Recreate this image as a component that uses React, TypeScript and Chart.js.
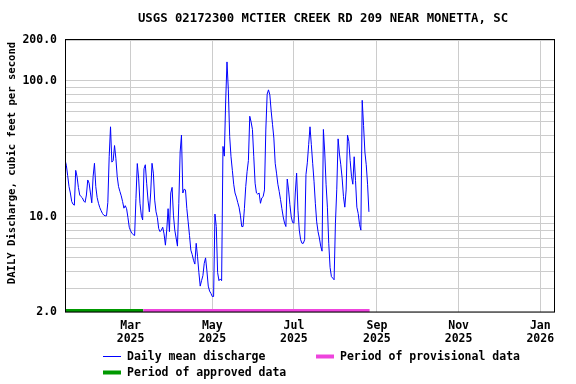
import React, { useEffect, useRef } from "react";
import { Chart, registerables } from "chart.js";

Chart.register(...registerables);

// ---- Data ----
const TITLE = "USGS 02172300 MCTIER CREEK RD 209 NEAR MONETTA, SC";
const Y_TITLE = "DAILY Discharge, cubic feet per second";
const START_DATE = "2025-01-11"; // first daily value
const END_DATE = "2026-01-12"; // right edge of the axis
const APPROVED_END = "2025-03-10"; // last approved day
const tickDates = ["2025-03-01", "2025-05-01", "2025-07-01", "2025-09-01", "2025-11-01", "2026-01-01"];
const tickMonths = ["Mar", "May", "Jul", "Sep", "Nov", "Jan"];
const tickYears = ["2025", "2025", "2025", "2025", "2025", "2026"];
const yGridValues = [2, 3, 4, 5, 6, 7, 8, 9, 10, 20, 30, 40, 50, 60, 70, 80, 90, 100, 200];
const yLabelValues = [2, 10, 100, 200];

// daily mean discharge, cfs, starting at START_DATE
const discharge = [
  26.3, 24, 20.1, 16.7, 15, 13, 12.4, 12.2, 22, 19.8,
  16.5, 14.5, 14.1, 13.8, 13.1, 12.8, 14.5, 18.7, 17.7, 15,
  12.7, 19.8, 24.8, 16.7, 13.9, 12.6, 11.7, 11.1, 10.6, 10.3,
  10.2, 10.2, 12.8, 27.7, 46, 25.3, 26, 33.5, 27, 19.8,
  16.7, 15.4, 14.3, 13, 11.6, 12.1, 11.5, 9.9, 8.4, 7.9,
  7.6, 7.4, 7.3, 13.7, 24.7, 19.3, 12.6, 10.3, 9.5, 22.6,
  24.2, 17.7, 13.3, 10.9, 15, 24.8, 21, 13.3, 10.9, 9.9,
  8.2, 7.8, 8, 8.4, 7.5, 6.2, 8, 11.5, 7.8, 15,
  16.5, 10.3, 8, 7, 6.1, 12.6, 30, 40, 15, 16,
  15.8, 11.5, 9.2, 7.3, 5.7, 5.3, 4.8, 4.5, 6.4, 5.1,
  3.9, 3.1, 3.4, 3.7, 4.56, 5.0, 4, 3.1, 2.85, 2.74,
  2.6, 2.6, 10.5, 8.5, 3.9, 3.4, 3.5, 3.4, 33, 28,
  70, 138, 86, 39, 27.7, 22, 17.4, 15, 14, 12.8,
  11.8, 10.3, 8.5, 8.5, 11.5, 16.7, 21.5, 26, 55, 50,
  44, 27.7, 17.7, 15, 14.7, 15, 12.6, 13.8, 14.1, 15.8,
  43.6, 80, 86, 79, 60, 48, 38, 24.8, 21, 17.4,
  15.4, 13.4, 11.5, 10, 9, 8.5, 19, 15.8, 12.3, 10,
  9.1, 9, 15, 21, 11.2, 8, 6.8, 6.4, 6.4, 6.8,
  20.5, 25, 34, 46, 34, 24.8, 18.3, 12.6, 9.2, 7.8,
  7, 6.1, 5.6, 44, 30, 17.4, 11.8, 6.4, 4.25, 3.64,
  3.55, 3.45, 9, 16, 37.5, 29, 24.2, 19.3, 14.1, 11.8,
  15.8, 40, 36, 26, 19.8, 17.4, 27.7, 18.5, 11.8, 10.6,
  8.8, 8, 72, 47, 30, 24.2, 17.4, 10.9,
];

const BLUE = "#0000ff";
const PINK = "rgb(238,68,221)";
const GREEN = "rgb(0,153,0)";
const GRID = "rgb(204,204,204)";
const MONO = "'DejaVu Sans Mono', monospace";

const DAY = 86400000;
const dayOf = (s: string) => (Date.parse(s + "T00:00:00Z") - Date.parse(START_DATE + "T00:00:00Z")) / DAY;

const decorPlugin = {
  id: "decor",
  afterDraw(chart: any) {
    const { ctx, chartArea } = chart;
    const { left, right, top, bottom } = chartArea;
    ctx.save();
    // frame
    ctx.strokeStyle = "#000";
    ctx.lineWidth = 1;
    ctx.strokeRect(Math.round(left) + 0.5, Math.round(top) - 0.5, Math.round(right - left) - 1, Math.round(bottom - top) + 0.5);
    // title
    ctx.fillStyle = "#000";
    ctx.font = `bold 12.3px ${MONO}`;
    ctx.textAlign = "center";
    ctx.textBaseline = "middle";
    ctx.fillText(TITLE, 323, 19);
    // y axis title
    ctx.save();
    ctx.translate(12, 163);
    ctx.rotate(-Math.PI / 2);
    ctx.font = `bold 10.6px ${MONO}`;
    ctx.fillText(Y_TITLE, 0, 0);
    ctx.restore();
    // legend
    const ds = chart.data.datasets;
    const items = [
      { d: ds[0], x: 103, y: 357 },
      { d: ds[1], x: 316, y: 357 },
      { d: ds[2], x: 103, y: 373 },
    ];
    ctx.font = `bold 11.5px ${MONO}`;
    ctx.textAlign = "left";
    items.forEach((it) => {
      ctx.strokeStyle = it.d.borderColor;
      ctx.lineWidth = it.d.label === "Daily mean discharge" ? 1 : 4;
      ctx.beginPath();
      ctx.moveTo(it.x, it.y - 0.5);
      ctx.lineTo(it.x + 18, it.y - 0.5);
      ctx.stroke();
      ctx.fillStyle = "#000";
      ctx.fillText(it.d.label, it.x + 24, it.y);
    });
    ctx.restore();
  },
};

export default function App() {
  const ref = useRef<HTMLCanvasElement>(null);
  useEffect(() => {
    document.body.style.margin = "0";
    const tickDays = tickDates.map(dayOf);
    const lastDay = discharge.length - 1;
    const approvedEnd = dayOf(APPROVED_END) + 0.5;
    const chart = new Chart(ref.current!, {
      type: "line",
      data: {
        datasets: [
          {
            label: "Daily mean discharge",
            data: discharge.map((v, i) => ({ x: i, y: v })),
            borderColor: BLUE,
            borderWidth: 1,
            pointRadius: 0,
            tension: 0,
          },
          {
            label: "Period of provisional data",
            data: [
              { x: approvedEnd, y: yGridValues[0] },
              { x: lastDay + 0.5, y: yGridValues[0] },
            ],
            borderColor: PINK,
            borderWidth: 6,
            pointRadius: 0,
            clip: 0,
          },
          {
            label: "Period of approved data",
            data: [
              { x: 0, y: yGridValues[0] },
              { x: approvedEnd, y: yGridValues[0] },
            ],
            borderColor: GREEN,
            borderWidth: 6,
            pointRadius: 0,
            clip: 0,
          },
        ],
      },
      options: {
        animation: false,
        responsive: false,
        layout: { padding: { left: 0, right: 21, top: 40, bottom: 0 } },
        plugins: { legend: { display: false }, title: { display: false }, tooltip: { enabled: false } },
        scales: {
          x: {
            type: "linear",
            min: 0,
            max: dayOf(END_DATE),
            afterBuildTicks: (s: any) => {
              s.ticks = tickDays.map((v) => ({ value: v }));
            },
            afterFit: (s: any) => {
              s.height = 72;
            },
            border: { display: false },
            grid: { color: GRID, lineWidth: 1, drawTicks: false },
            ticks: {
              autoSkip: false,
              maxRotation: 0,
              padding: 8,
              color: "#000",
              font: { family: MONO, size: 11.5, weight: "bold", lineHeight: 1.1 },
              callback: (_v: any, i: number) => [tickMonths[i], tickYears[i]],
            },
          },
          y: {
            type: "logarithmic",
            min: yGridValues[0],
            max: yGridValues[yGridValues.length - 1],
            afterBuildTicks: (s: any) => {
              s.ticks = yGridValues.map((v) => ({ value: v }));
            },
            afterFit: (s: any) => {
              s.width = 65;
            },
            border: { display: false },
            grid: { color: GRID, lineWidth: 1, drawTicks: false },
            ticks: {
              autoSkip: false,
              padding: 8,
              color: "#000",
              font: { family: MONO, size: 11.5, weight: "bold" },
              callback: (v: any) => (yLabelValues.includes(Number(v)) ? Number(v).toFixed(1) : ""),
            },
          },
        },
      },
      plugins: [decorPlugin],
    } as any);
    return () => chart.destroy();
  }, []);
  return (
    <div style={{ position: "absolute", left: 0, top: 0, width: 576, height: 384, background: "#fff" }}>
      <canvas ref={ref} width={576} height={384} style={{ display: "block" }} />
    </div>
  );
}
